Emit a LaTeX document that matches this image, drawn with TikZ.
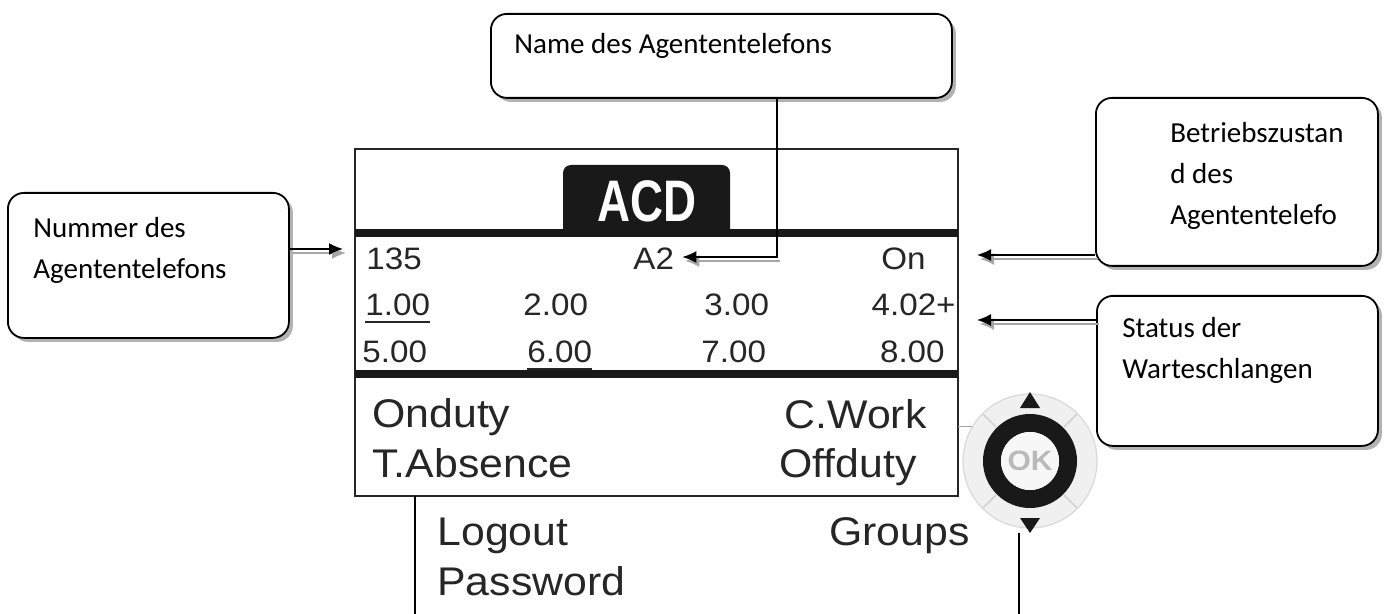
\documentclass[tikz,border=0pt]{standalone}
\usepackage{fontspec}
\newfontfamily\callfont{Carlito}
\newfontfamily\lcdfont[FakeStretch=1.07]{Liberation Sans}
\newfontfamily\tabfont[FakeStretch=0.78]{Liberation Sans}
\usetikzlibrary{positioning, shadows, arrows.meta}

\tikzstyle{callout} = [rectangle, rounded corners=8pt,
draw=black,
line width=0.9pt,
fill=white,
anchor=north west,
drop shadow={shadow xshift=2pt, shadow yshift=-2pt, fill=gray!60, opacity=1}]
\tikzstyle{calltext} = [inner sep=0pt, align=left,
font=\callfont\fontsize{14.5}{20.5}\selectfont]
\tikzstyle{lcd} = [inner sep=0pt, text=black!85,
font=\lcdfont\fontsize{20}{24}\selectfont]
\tikzstyle{lcdnum} = [inner sep=0pt, text=black!85,
font=\lcdfont\fontsize{15.5}{18}\selectfont]
\tikzstyle{arrow} = [line width=0.75pt, -{Latex[length=7pt,width=6pt]}]
\tikzstyle{arrowshadow} = [arrow, gray!70,
transform canvas={shift={(1.5pt,-2pt)}}]

\begin{document}
\begin{tikzpicture}[x=0.5pt, y=-0.5pt]
\useasboundingbox (0,0) rectangle (1384,614);

% display
\draw[line width=0.8pt, black!85] (355,149) rectangle (958,496);
\fill[black!90, rounded corners=4pt] (563,237) -- (563,165) -- (730,165) -- (730,237) -- cycle;
\draw[line width=4pt, black!90] (355,233) -- (958,233);
\draw[line width=4pt, black!90] (355,374) -- (958,374);
\node (acd) [inner sep=0pt, text=white, anchor=base,
  font=\tabfont\bfseries\fontsize{29.3}{30}\selectfont] at (647,222) {ACD};

\node (num) [lcdnum, anchor=base west] at (366,270) {135};
\node (a2) [lcdnum, anchor=base west] at (633,270) {A2};
\node (on) [lcdnum, anchor=base east] at (926,270) {On};

\node (q1) [lcdnum, anchor=base west] at (365,315) {1.00};
\node (q2) [lcdnum, anchor=base west] at (523,315) {2.00};
\node (q3) [lcdnum, anchor=base west] at (704,315) {3.00};
\node (q4) [lcdnum, anchor=base east] at (956,315) {4.02+};
\node (q5) [lcdnum, anchor=base west] at (362,362) {5.00};
\node (q6) [lcdnum, anchor=base west] at (527,362) {6.00};
\node (q7) [lcdnum, anchor=base west] at (701,362) {7.00};
\node (q8) [lcdnum, anchor=base east] at (945,362) {8.00};
\draw[line width=1pt, black!85] ([yshift=-3.5pt]q1.base west) -- ([yshift=-3.5pt]q1.base east);
\draw[line width=1pt, black!85] ([yshift=-3.5pt]q6.base west) -- ([yshift=-3.5pt]q6.base east);

\node (onduty) [lcd, anchor=base west] at (372,427) {Onduty};
\node (tabsence) [lcd, anchor=base west] at (372,477) {T.Absence};
\node (cwork) [lcd, anchor=base east] at (927,428) {C.Work};
\node (offduty) [lcd, anchor=base east] at (917,477) {Offduty};
\node (logout) [lcd, anchor=base west] at (437,545) {Logout};
\node (password) [lcd, anchor=base west] at (437,595) {Password};
\node (groups) [lcd, anchor=base east] at (970,545) {Groups};

% navigator
\node (nav) [circle, fill=gray!12, draw=gray!30, line width=0.6pt,
  minimum size=67pt, inner sep=0pt] at (1030,461) {};
\draw[line width=9pt, black!90] (nav.center) circle[radius=19pt];
\foreach \a in {45,135,225,315}
  \draw[gray!35, line width=0.8pt] (nav.center) ++(\a:24pt) -- ++(\a:9pt);
\node (ok) [circle, fill=gray!6, minimum size=29pt, inner sep=0pt, text=gray!55,
  font=\lcdfont\bfseries\fontsize{14}{14}\selectfont] at (nav.center) {OK};
\fill[black!90] (1020,408) -- (1030,392) -- (1040,408) -- cycle;
\fill[black!90] (1020,518) -- (1030,533) -- (1040,518) -- cycle;

\draw[line width=0.6pt] (415,496) -- (415,614);
\draw[line width=0.6pt] (1019,533) -- (1019,614);
\draw[gray!70, line width=0.5pt] (958,426) -- (972,426);

% callouts
\node (num_box) [callout, minimum width=140.5pt, minimum height=72.5pt] at (7,192) {};
\node (num_lbl) [calltext, below right=12.5pt and 13pt of num_box.north west]
  {Nummer des\\Agententelefons};

\node (name_box) [callout, minimum width=230.5pt, minimum height=42pt] at (490,13) {};
\node (name_lbl) [calltext, below right=10pt and 12pt of name_box.north west]
  {Name des Agententelefons};

\node (mode_box) [callout, minimum width=141pt, minimum height=84pt] at (1095,97) {};
\node (mode_lbl) [calltext, below right=12.5pt and 37.5pt of mode_box.north west]
  {Betriebszustan\\d des\\Agententelefo};

\node (queue_box) [callout, minimum width=140.5pt, minimum height=75pt] at (1096,295) {};
\node (queue_lbl) [calltext, below right=11pt and 13pt of queue_box.north west]
  {Status der\\Warteschlangen};

\coordinate (num_tip) at (343,249);
\coordinate (mode_tip) at (977,255);
\coordinate (queue_tip) at (977,320);
\coordinate (name_bend) at (777,257);

\draw[arrowshadow] (num_box.east |- num_tip) -- (num_tip);
\draw[arrow] (num_box.east |- num_tip) -- (num_tip);
\draw[arrowshadow] (mode_box.west |- mode_tip) -- (mode_tip);
\draw[arrow] (mode_box.west |- mode_tip) -- (mode_tip);
\draw[arrowshadow] (queue_box.west |- queue_tip) -- (queue_tip);
\draw[arrow] (queue_box.west |- queue_tip) -- (queue_tip);
\draw[arrowshadow, shorten >=4pt] (name_bend) -- (name_bend -| a2.east);
\draw[arrow, shorten >=4pt] (name_bend |- name_box.south) -- (name_bend) -- (name_bend -| a2.east);

\end{tikzpicture}
\end{document}
